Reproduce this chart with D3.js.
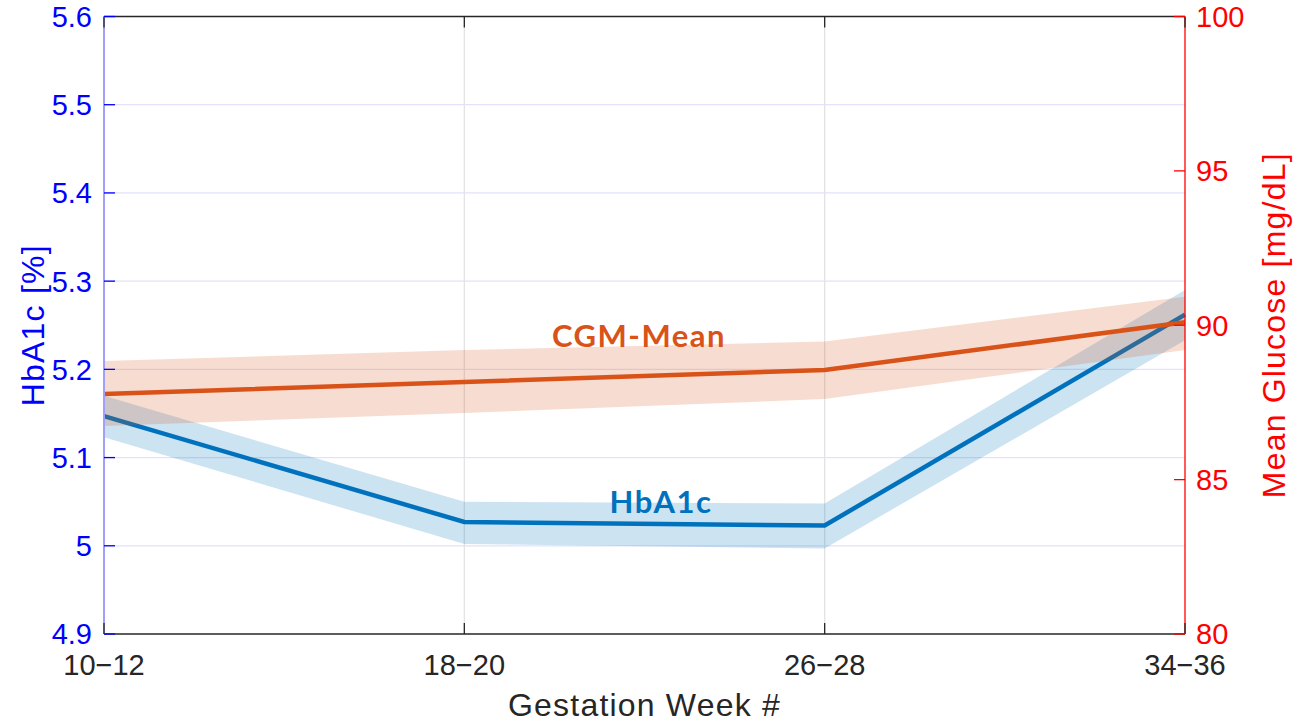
<!DOCTYPE html>
<html>
<head>
<meta charset="utf-8">
<script src="https://cdn.jsdelivr.net/npm/d3@7"></script>
<style>
  body { margin: 0; background: #fff; }
  text { font-family: "Liberation Sans", Arial, sans-serif; }
</style>
</head>
<body>
<script>
var weeks = ["10\u221212", "18\u221220", "26\u221228", "34\u221236"];

// HbA1c [%] (left axis)
var hba1c   = [5.147, 5.027, 5.023, 5.262];
var hba1cLo = [5.123, 5.002, 4.997, 5.233];
var hba1cHi = [5.170, 5.050, 5.048, 5.290];

// CGM mean glucose [mg/dL] (right axis)
var cgm   = [87.77, 88.16, 88.55, 90.10];
var cgmLo = [86.74, 87.16, 87.61, 89.20];
var cgmHi = [88.84, 89.20, 89.47, 90.92];

var leftTicks = [4.9, 5.0, 5.1, 5.2, 5.3, 5.4, 5.5, 5.6];
var rightTicks = [80, 85, 90, 95, 100];

var margin = {top: 16.5, right: 110, bottom: 89, left: 104},
    W = 1295, H = 723,
    width = W - margin.left - margin.right,
    height = H - margin.top - margin.bottom;

var blue = "#0072BD", orange = "#D95319";

var svg = d3.select("body").append("svg")
    .attr("width", W)
    .attr("height", H)
  .append("g")
    .attr("transform", "translate(" + margin.left + "," + margin.top + ")");

var x = d3.scalePoint().domain(weeks).range([0, width]);
var yL = d3.scaleLinear().domain([4.9, 5.6]).range([height, 0]);
var yR = d3.scaleLinear().domain([80, 100]).range([height, 0]);

var tick = 11;

// grid
svg.selectAll(".hgrid").data(leftTicks.slice(1, -1)).enter().append("line")
    .attr("x1", 0).attr("x2", width)
    .attr("y1", function(d) { return yL(d); })
    .attr("y2", function(d) { return yL(d); })
    .style("stroke", "#e2e2fb").style("stroke-width", 1.3);
svg.selectAll(".vgrid").data(weeks.slice(1, -1)).enter().append("line")
    .attr("y1", 0).attr("y2", height)
    .attr("x1", function(d) { return x(d); })
    .attr("x2", function(d) { return x(d); })
    .style("stroke", "#e3e3e3").style("stroke-width", 1.3);

var rows = weeks.map(function(w, i) {
  return {w: w, h: hba1c[i], hl: hba1cLo[i], hh: hba1cHi[i], c: cgm[i], cl: cgmLo[i], ch: cgmHi[i]};
});

// HbA1c band + line
svg.append("path").datum(rows)
    .attr("d", d3.area()
      .x(function(d) { return x(d.w); })
      .y0(function(d) { return yL(d.hl); })
      .y1(function(d) { return yL(d.hh); }))
    .style("fill", blue).style("fill-opacity", 0.2);
svg.append("path").datum(rows)
    .attr("d", d3.line()
      .x(function(d) { return x(d.w); })
      .y(function(d) { return yL(d.h); }))
    .style("fill", "none").style("stroke", blue).style("stroke-width", 4.5);

// CGM band + line
svg.append("path").datum(rows)
    .attr("d", d3.area()
      .x(function(d) { return x(d.w); })
      .y0(function(d) { return yR(d.cl); })
      .y1(function(d) { return yR(d.ch); }))
    .style("fill", orange).style("fill-opacity", 0.2);
svg.append("path").datum(rows)
    .attr("d", d3.line()
      .x(function(d) { return x(d.w); })
      .y(function(d) { return yR(d.c); }))
    .style("fill", "none").style("stroke", orange).style("stroke-width", 4.5);

// box
svg.append("line").attr("x1", 0).attr("x2", width).attr("y1", 0).attr("y2", 0)
    .style("stroke", "#262626").style("stroke-width", 1.3);
svg.append("line").attr("x1", 0).attr("x2", width).attr("y1", height).attr("y2", height)
    .style("stroke", "#262626").style("stroke-width", 1.3);
svg.append("line").attr("x1", 0).attr("x2", 0).attr("y1", 0).attr("y2", height)
    .style("stroke", "#a0a0fb").style("stroke-width", 2);
svg.append("line").attr("x1", width).attr("x2", width).attr("y1", 0).attr("y2", height)
    .style("stroke", "#ff0000").style("stroke-width", 1.3);

// x ticks (top and bottom, inward)
weeks.forEach(function(w) {
  svg.append("line").attr("x1", x(w)).attr("x2", x(w)).attr("y1", height).attr("y2", height - tick)
      .style("stroke", "#262626").style("stroke-width", 1.3);
  svg.append("line").attr("x1", x(w)).attr("x2", x(w)).attr("y1", 0).attr("y2", tick)
      .style("stroke", "#262626").style("stroke-width", 1.3);
});
svg.selectAll(".xlab").data(weeks).enter().append("text")
    .attr("x", function(d) { return x(d); })
    .attr("y", height + 41)
    .attr("text-anchor", "middle")
    .style("font-size", "29px").style("fill", "#262626")
    .text(function(d) { return d; });

// left ticks
svg.selectAll(".ltick").data(leftTicks).enter().append("line")
    .attr("x1", 0).attr("x2", tick)
    .attr("y1", function(d) { return yL(d); })
    .attr("y2", function(d) { return yL(d); })
    .style("stroke", "#0000ff").style("stroke-width", 1.3);
svg.selectAll(".llab").data(leftTicks).enter().append("text")
    .attr("x", -12)
    .attr("y", function(d) { return yL(d); })
    .attr("dy", "0.36em")
    .attr("text-anchor", "end")
    .style("font-size", "29px").style("fill", "#0000ff")
    .text(function(d) { return d3.format(".1~f")(d); });

// right ticks
svg.selectAll(".rtick").data(rightTicks).enter().append("line")
    .attr("x1", width - tick).attr("x2", width)
    .attr("y1", function(d) { return yR(d); })
    .attr("y2", function(d) { return yR(d); })
    .style("stroke", "#ff0000").style("stroke-width", 1.3);
svg.selectAll(".rlab").data(rightTicks).enter().append("text")
    .attr("x", width + 11)
    .attr("y", function(d) { return yR(d); })
    .attr("dy", "0.36em")
    .style("font-size", "29px").style("fill", "#ff0000")
    .text(function(d) { return d; });

// axis titles
svg.append("text")
    .attr("transform", "translate(" + (-60) + "," + (height / 2) + ") rotate(-90)")
    .attr("text-anchor", "middle")
    .style("font-size", "32px").style("letter-spacing", "1.2px").style("fill", "#0000ff")
    .text("HbA1c [%]");
svg.append("text")
    .attr("transform", "translate(" + (width + 100) + "," + (height / 2) + ") rotate(-90)")
    .attr("text-anchor", "middle")
    .style("font-size", "32px").style("letter-spacing", "1.2px").style("fill", "#ff0000")
    .text("Mean Glucose [mg/dL]");
svg.append("text")
    .attr("x", width / 2)
    .attr("y", height + 82)
    .attr("text-anchor", "middle")
    .style("font-size", "32px").style("letter-spacing", "1.2px").style("fill", "#262626")
    .text("Gestation Week #");

// series labels
svg.append("text")
    .attr("x", 535).attr("y", 330.5)
    .attr("text-anchor", "middle")
    .style("font-family", "Lato, sans-serif").style("font-weight", "bold")
    .style("font-size", "31px").style("letter-spacing", "1.5px").style("fill", orange)
    .text("CGM-Mean");
svg.append("text")
    .attr("x", 557).attr("y", 496)
    .attr("text-anchor", "middle")
    .style("font-family", "Lato, sans-serif").style("font-weight", "bold")
    .style("font-size", "31px").style("letter-spacing", "1.5px").style("fill", blue)
    .text("HbA1c");
</script>
</body>
</html>
